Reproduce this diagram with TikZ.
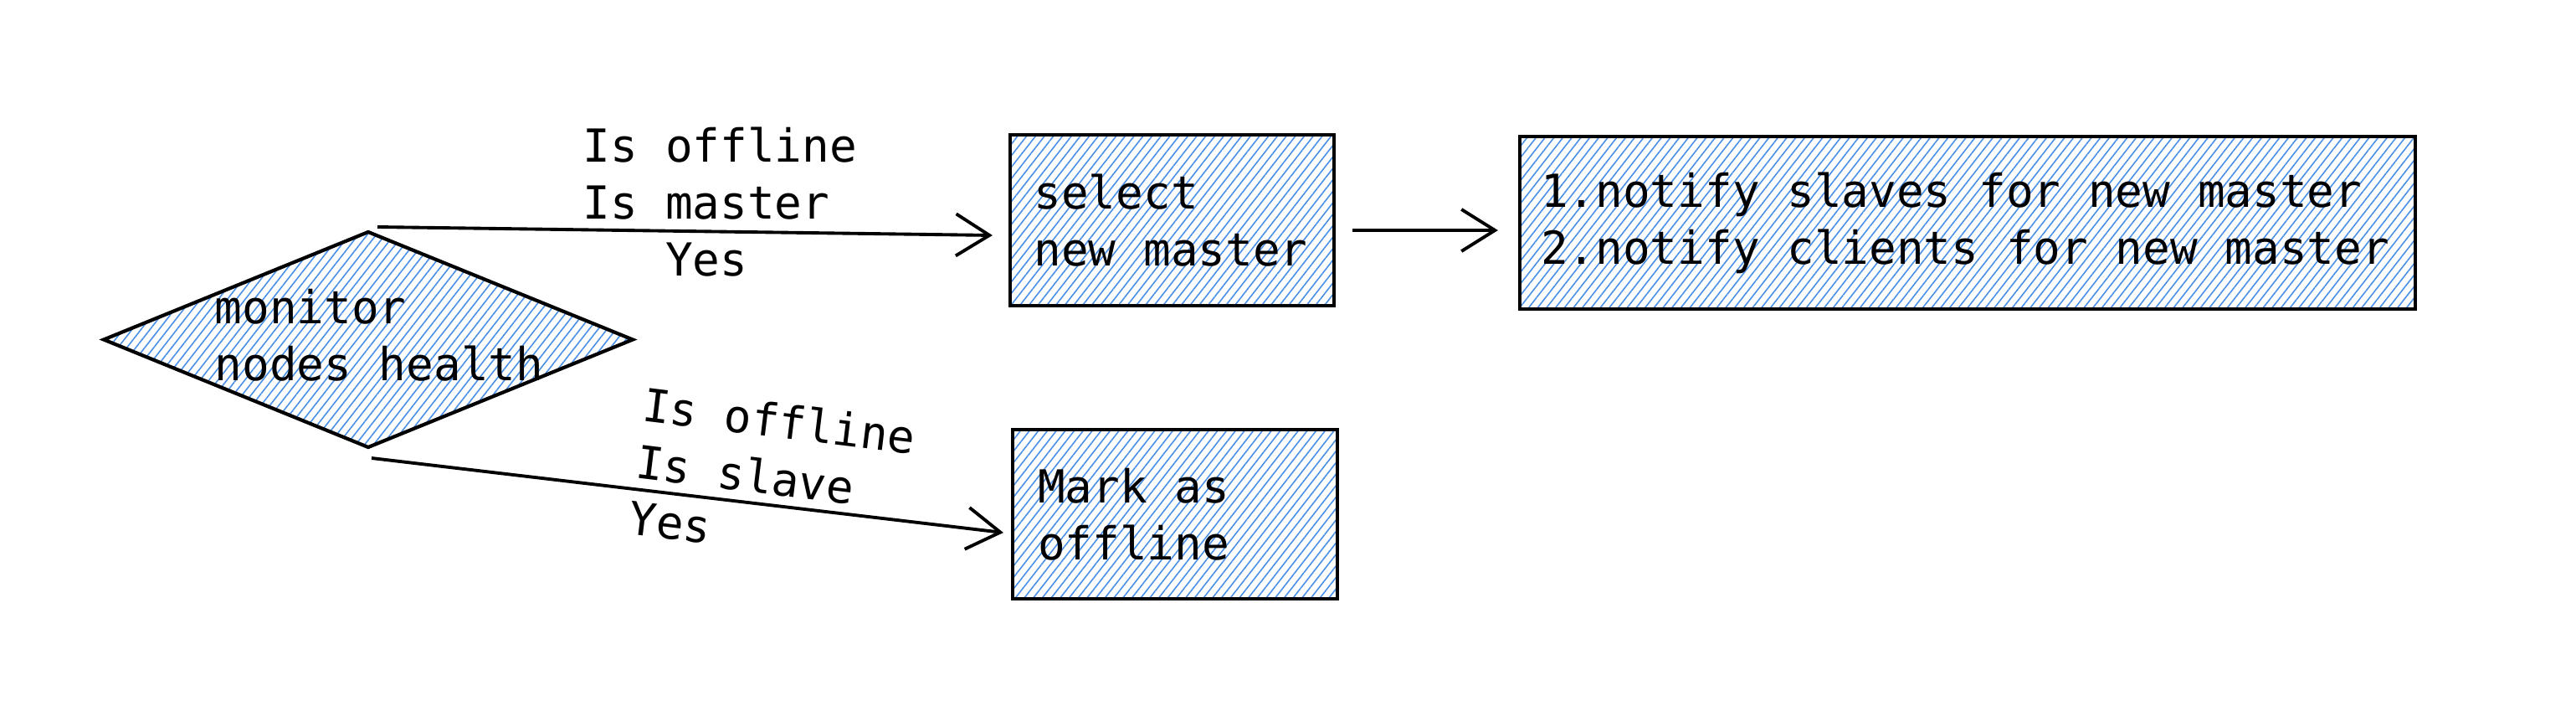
\documentclass[tikz,border=0pt]{standalone}
\usepackage{fontspec}
\setmainfont{DejaVu Sans Mono}[WordSpace={1,0,0}]
\usetikzlibrary{patterns.meta,arrows.meta,shapes.geometric}
\definecolor{hatch}{RGB}{74,143,230}
\tikzset{
  sk/.style={draw=black, line width=1.2pt,
    pattern={Lines[angle=52,distance=2.4pt,line width=0.45pt]}, pattern color=hatch},
  boxn/.style={sk, rectangle, inner ysep=0pt, align=left},
  conn/.style={draw, line width=1.1pt, -{Straight Barb[length=0.4cm,width=0.5cm]}},
  lbl/.style={align=left, inner sep=0pt},
  every node/.style={font=\fontsize{15.46pt}{19.36pt}\selectfont}
}
\begin{document}
\begin{tikzpicture}
\useasboundingbox (0,0) rectangle (30.78,8.42);

\node[sk, diamond, minimum width=6.32cm, minimum height=2.57cm, inner sep=0pt, outer sep=0pt] (d) at (4.40,4.365) {};
\node[lbl] (dt) at (4.53,4.415) {monitor\\nodes health};

\node[boxn, minimum width=3.87cm, minimum height=2.04cm, inner xsep=0.285cm, text width=3.30cm] (b1) at (14.005,5.79) {\spaceskip=0pt\relax select\\new master};
\node[boxn, minimum width=10.70cm, minimum height=2.06cm, inner xsep=0.25cm, text width=10.20cm] (b2) at (23.51,5.76) {\spaceskip=0pt\relax 1.notify slaves for new master\\2.notify clients for new master};
\node[boxn, minimum width=3.88cm, minimum height=2.02cm, inner xsep=0.30cm, text width=3.28cm] (b3) at (14.04,2.28) {\spaceskip=0pt\relax Mark as\\offline};

\draw[conn] ([shift={(0.11,0.06)}]d.north) -- ([shift={(-0.19,-0.18)}]b1.west);
\draw[conn] ([shift={(0.20,-0.12)}]b1.east) -- ([shift={(-0.24,-0.09)}]b2.west);
\draw[conn] ([shift={(0.04,-0.13)}]d.south) -- ([shift={(-0.09,-0.22)}]b3.west);

\node[lbl] (l1) at (8.605,6.01) {Is offline\\Is master\\\phantom{III}Yes};
\node[lbl, rotate=-7] (l2) at (9.23,2.72) {Is offline\\Is slave\\Yes};
\end{tikzpicture}
\end{document}
